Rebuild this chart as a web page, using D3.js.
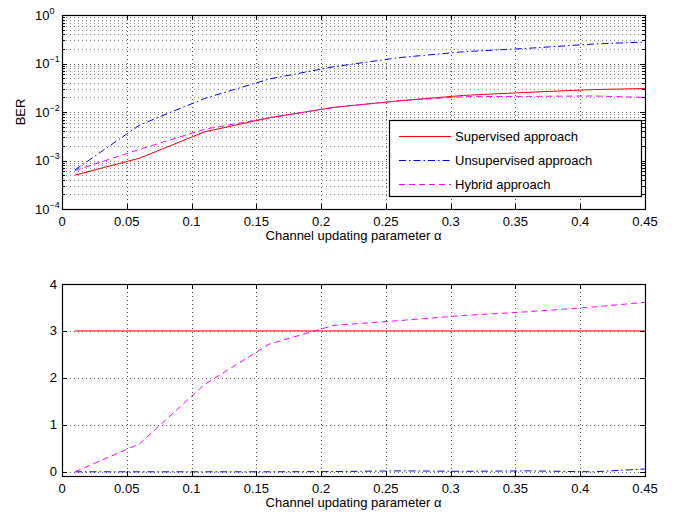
<!DOCTYPE html>
<html><head><meta charset="utf-8">
<script src="https://cdn.jsdelivr.net/npm/d3@7"></script>
<style>body{margin:0;background:#fff} text{font-family:"Liberation Sans",Arial,Helvetica,sans-serif;fill:#000}</style>
</head><body><svg id="c" width="685" height="514"></svg>
<script>
// ---- data ----
const alpha = [0.01, 0.06, 0.11, 0.16, 0.21, 0.26, 0.31, 0.36, 0.41, 0.45];
const berSupervised   = [5.0e-4, 1.12e-3, 3.9e-3, 7.6e-3, 1.25e-2, 1.7e-2, 2.2e-2, 2.55e-2, 2.9e-2, 3.05e-2];
const berUnsupervised = [6.4e-4, 5.4e-3, 1.9e-2, 4.8e-2, 8.6e-2, 1.32e-1, 1.75e-1, 2.06e-1, 2.52e-1, 2.77e-1];
const berHybrid       = [6.2e-4, 1.7e-3, 4.4e-3, 7.6e-3, 1.25e-2, 1.7e-2, 2.07e-2, 2.1e-2, 2.14e-2, 2.0e-2];
const bottomSupervised   = [3, 3, 3, 3, 3, 3, 3, 3, 3, 3];
const bottomUnsupervised = [0, 0, 0, 0, 0.005, 0.02, 0.01, 0.02, 0.0, 0.06];
const bottomHybrid       = [0, 0.6, 1.86, 2.72, 3.12, 3.22, 3.33, 3.41, 3.51, 3.61];
const xTicks = [0, 0.05, 0.1, 0.15, 0.2, 0.25, 0.3, 0.35, 0.4, 0.45];
const yTopExps = [-4, -3, -2, -1, 0];
const yBotTicks = [0, 1, 2, 3, 4];
const seriesNames = ["Supervised approach", "Unsupervised approach", "Hybrid approach"];
const xLabel = "Channel updating parameter \u03b1";

// ---- styles ----
const colors = ["#ff0000", "#0000ff", "#ff00ff"];
const dashes = [null, "7,3,1.5,3", "6,4"];
const FS = "13px";

const svg = d3.select("#c");
const L = 62, R = 645;
const x = d3.scaleLinear([0, 0.45], [L, R]);
const yTop = d3.scaleLog([1e-4, 1], [209, 15]);
const yBot = d3.scaleLinear([-0.1, 4], [476.5, 284]);
const px = v => Math.round(v) + 0.5;

function grid(y, top, bottom, yGridVals, yMinorVals) {
  const g = svg.append("g");
  xTicks.forEach(t => {
    if (t === 0 || t === 0.45) return;
    g.append("line").attr("x1", px(x(t))).attr("x2", px(x(t))).attr("y1", top).attr("y2", bottom)
      .attr("stroke", "#555").attr("stroke-dasharray", "1,3").attr("stroke-width", 1);
  });
  yGridVals.forEach(v => {
    const yy = px(y(v));
    if (yy <= top + 1 || yy >= bottom - 1) return;
    g.append("line").attr("x1", L).attr("x2", R).attr("y1", yy).attr("y2", yy)
      .attr("stroke", "#666").attr("stroke-dasharray", "1,3").attr("stroke-width", 1);
  });
  yMinorVals.forEach(v => {
    const yy = px(y(v));
    if (yy <= top + 1 || yy >= bottom - 1) return;
    g.append("line").attr("x1", L).attr("x2", R).attr("y1", yy).attr("y2", yy)
      .attr("stroke", "#888").attr("stroke-dasharray", "1,3").attr("stroke-width", 1);
  });
}

function frame(y, top, bottom, yMajor, yMinor) {
  const g = svg.append("g");
  g.append("rect").attr("x", L + 0.5).attr("y", top + 0.5).attr("width", R - L).attr("height", bottom - top)
    .attr("fill", "none").attr("stroke", "#000").attr("stroke-width", 1.2);
  xTicks.forEach(t => {
    const xx = px(x(t));
    g.append("line").attr("x1", xx).attr("x2", xx).attr("y1", bottom).attr("y2", bottom - 5).attr("stroke", "#000");
    g.append("line").attr("x1", xx).attr("x2", xx).attr("y1", top).attr("y2", top + 5).attr("stroke", "#000");
    g.append("text").attr("x", x(t)).attr("y", bottom + 16.5).attr("text-anchor", "middle")
      .attr("font-size", FS).text(String(+t.toFixed(2)));
  });
  yMajor.forEach(v => {
    const yy = px(y(v));
    g.append("line").attr("x1", L).attr("x2", L + 5).attr("y1", yy).attr("y2", yy).attr("stroke", "#000");
    g.append("line").attr("x1", R).attr("x2", R - 5).attr("y1", yy).attr("y2", yy).attr("stroke", "#000");
  });
  yMinor.forEach(v => {
    const yy = px(y(v));
    g.append("line").attr("x1", L).attr("x2", L + 3).attr("y1", yy).attr("y2", yy).attr("stroke", "#000");
    g.append("line").attr("x1", R).attr("x2", R - 3).attr("y1", yy).attr("y2", yy).attr("stroke", "#000");
  });
  g.append("text").attr("x", (L + R) / 2).attr("y", bottom + 31).attr("text-anchor", "middle")
    .attr("font-size", FS).text(xLabel);
}

function drawLines(y, dataSets, clipId, top, bottom) {
  svg.append("clipPath").attr("id", clipId).append("rect")
    .attr("x", L).attr("y", top).attr("width", R - L).attr("height", bottom - top);
  const g = svg.append("g").attr("clip-path", `url(#${clipId})`);
  dataSets.forEach((d, i) => {
    const line = d3.line().x((v, j) => x(alpha[j])).y(v => y(v));
    g.append("path").attr("d", line(d)).attr("fill", "none").attr("stroke", colors[i])
      .attr("stroke-width", 1).attr("stroke-dasharray", dashes[i]);
  });
}

// ---- top plot ----
const topMajor = yTopExps.map(e => Math.pow(10, e));
const topMinor = [];
for (let e = -4; e < 0; e++) for (let m = 2; m <= 9; m++) topMinor.push(m * Math.pow(10, e));
grid(yTop, 15, 209, topMajor, topMinor);
drawLines(yTop, [berSupervised, berUnsupervised, berHybrid], "clipTop", 15, 209);
frame(yTop, 15, 209, topMajor, topMinor);
yTopExps.forEach(e => {
  const t = svg.append("text").attr("x", 35).attr("y", yTop(Math.pow(10, e)) + 4.5).attr("font-size", FS);
  t.append("tspan").text("10");
  t.append("tspan").attr("dy", -6).attr("font-size", "9px").text(e === 0 ? "0" : "\u2212" + (-e));
});
svg.append("text").attr("transform", `translate(25,112) rotate(-90)`).attr("text-anchor", "middle")
  .attr("font-size", FS).text("BER");

// legend
const lg = svg.append("g");
lg.append("rect").attr("x", 389.5).attr("y", 120.5).attr("width", 252).attr("height", 76)
  .attr("fill", "#fff").attr("stroke", "#000").attr("stroke-width", 1.2);
const legY = [136, 160, 184];
seriesNames.forEach((n, i) => {
  lg.append("line").attr("x1", 399).attr("x2", 451).attr("y1", legY[i] + 0.5).attr("y2", legY[i] + 0.5)
    .attr("stroke", colors[i]).attr("stroke-dasharray", dashes[i]);
  lg.append("text").attr("x", 455).attr("y", legY[i] + 4.5).attr("font-size", FS).text(n);
});

// ---- bottom plot ----
grid(yBot, 284, 476.5, yBotTicks, []);
drawLines(yBot, [bottomSupervised, bottomUnsupervised, bottomHybrid], "clipBot", 284, 476.5);
frame(yBot, 284, 476, yBotTicks, []);
yBotTicks.forEach(v => {
  svg.append("text").attr("x", 57).attr("y", yBot(v) + 4.5).attr("text-anchor", "end")
    .attr("font-size", FS).text(v);
});
</script></body></html>
